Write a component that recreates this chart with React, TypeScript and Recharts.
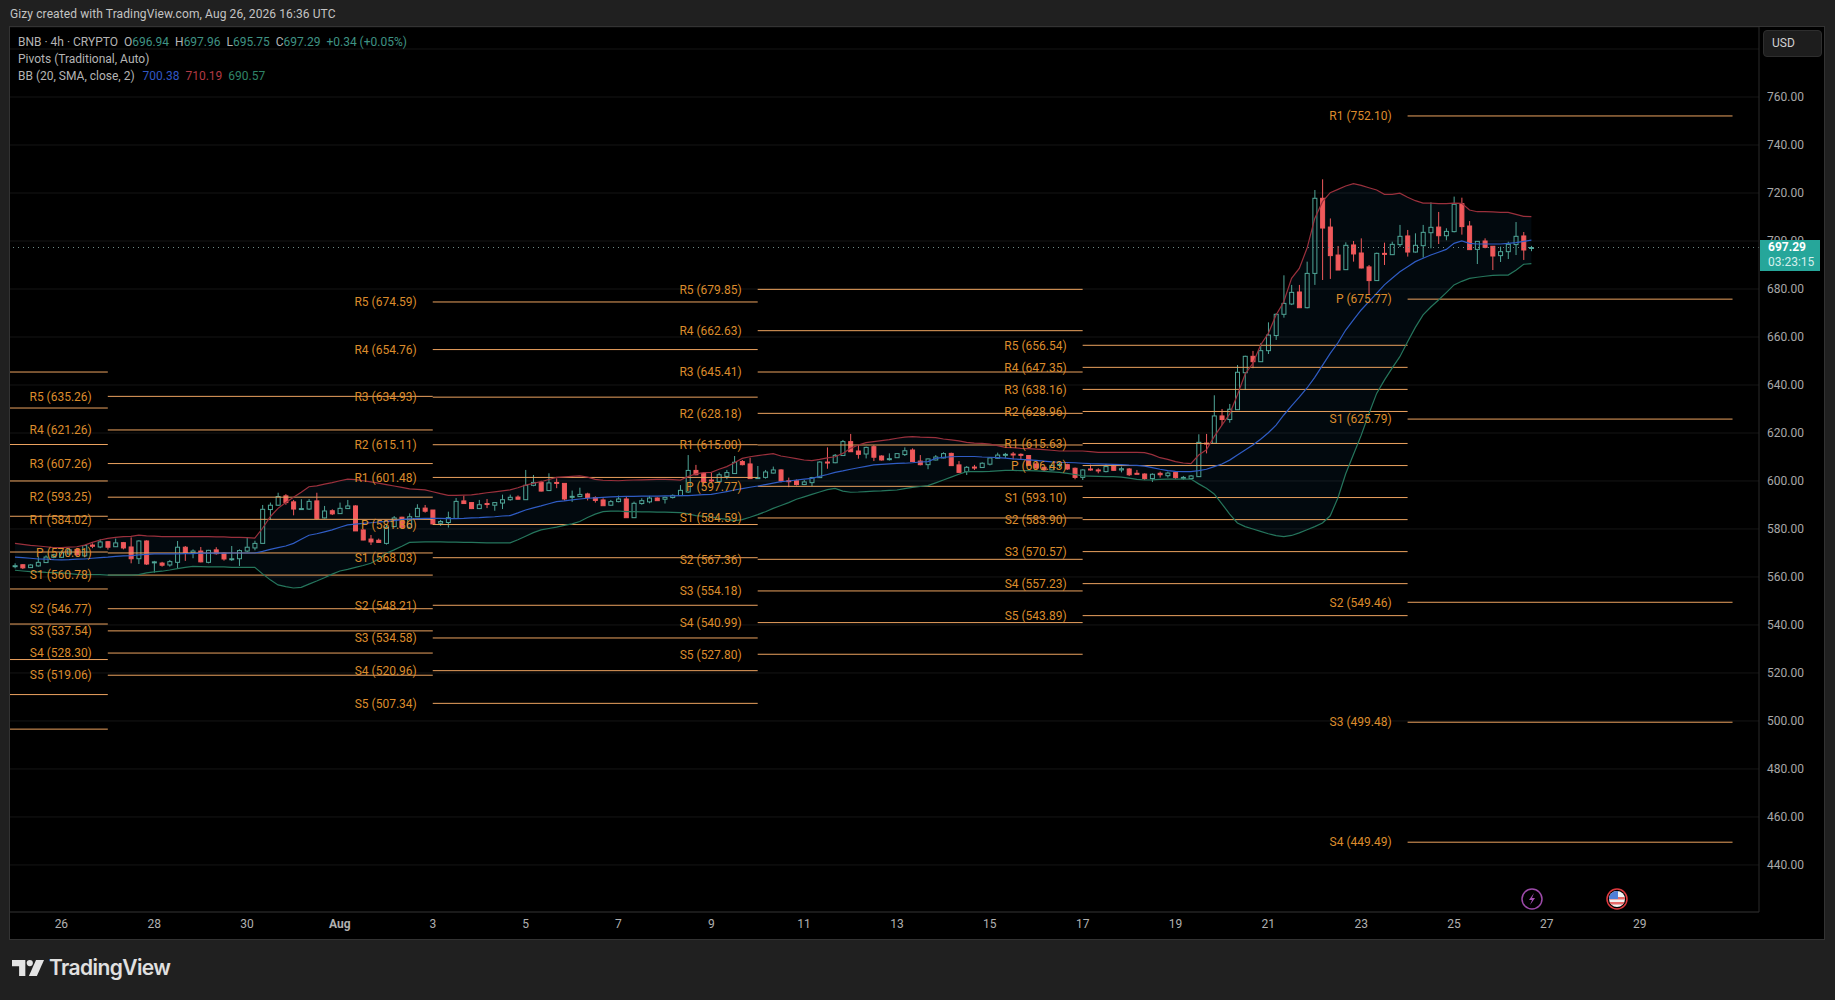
import React from "react";
import {
  Area,
  Bar,
  CartesianGrid,
  ComposedChart,
  Line,
  ReferenceLine,
  XAxis,
  YAxis,
} from "recharts";

// 4h bars of BNB, first bar is Jul 25 00:00, last one Aug 26 16:00
const opens = [
  564.5, 565.1, 563.9, 564.6, 566.0, 568.2, 568.2, 569.6, 571.5, 568.8,
  573.3, 572.5, 574.7, 572.6, 574.3, 572.5, 567.6, 575.0, 566.1, 565.8,
  565.0, 566.1, 572.4, 570.1, 570.8, 566.1, 571.3, 569.9, 567.5, 567.6,
  570.8, 572.1, 574.0, 588.1, 589.9, 593.8, 591.3, 588.3, 588.3, 591.7,
  584.6, 587.6, 586.4, 588.5, 589.6, 579.6, 575.8, 575.3, 574.0, 581.0,
  584.9, 580.7, 585.1, 588.7, 587.9, 582.4, 582.7, 584.4, 591.7, 591.0,
  588.5, 590.6, 589.9, 590.8, 592.2, 593.3, 592.2, 598.2, 599.4, 596.0,
  599.4, 599.0, 593.3, 593.5, 594.6, 593.1, 592.1, 589.9, 591.4, 592.5,
  584.7, 590.6, 591.3, 592.9, 592.4, 593.1, 593.9, 595.4, 604.4, 603.1,
  600.4, 599.7, 601.9, 603.1, 608.1, 607.1, 601.1, 601.5, 603.3, 604.6,
  600.1, 600.1, 598.5, 599.3, 601.4, 607.9, 607.6, 610.6, 616.4, 612.5,
  611.25, 614.3, 610.4, 608.9, 609.7, 611.0, 612.9, 608.3, 606.8, 608.75,
  609.6, 611.5, 606.7, 603.9, 605.8, 605.6, 607.0, 609.45, 611.0, 611.25,
  611.1, 610.6, 607.1, 605.7, 604.6, 606.7, 606.8, 605.3, 601.5, 605.0,
  604.6, 603.9, 606.1, 604.6, 605.0, 603.2, 602.9, 601.0, 603.2, 602.2,
  603.5, 601.25, 601.0, 601.8, 615.8, 615.7, 627.1, 625.6, 629.7, 645.1,
  651.95, 649.7, 654.3, 660.6, 669.45, 673.75, 678.75, 672.2, 686.5, 717.8,
  705.8, 694.15, 688.05, 698.35, 695.0, 689.2, 683.5, 694.85, 694.3, 698.5,
  702.1, 695.4, 698.05, 703.45, 705.8, 702.2, 703.9, 715.55, 706.25, 696.5,
  700.0, 697.8, 693.9, 695.55, 698.5, 702.1, 696.94,
];
const closes = [
  564.7, 563.8, 565.0, 566.1, 568.3, 569.2, 570.1, 571.3, 569.3, 573.1,
  572.8, 574.6, 572.4, 574.2, 572.1, 567.6, 575.0, 565.4, 566.3, 564.9,
  566.4, 572.4, 569.9, 570.8, 566.3, 571.1, 569.7, 567.5, 567.6, 571.0,
  572.4, 574.0, 588.2, 589.9, 593.5, 591.0, 588.3, 588.5, 591.5, 584.4,
  587.5, 586.3, 588.6, 589.6, 579.2, 575.4, 574.6, 574.4, 580.7, 584.6,
  580.7, 585.1, 588.6, 587.4, 582.1, 583.1, 584.7, 591.5, 590.6, 588.5,
  590.1, 590.3, 591.0, 592.2, 593.2, 592.4, 598.2, 599.4, 595.8, 599.2,
  599.2, 592.5, 593.6, 594.4, 593.1, 591.9, 589.7, 591.4, 592.5, 584.7,
  590.7, 591.8, 592.9, 591.8, 593.2, 594.0, 596.1, 604.4, 602.6, 599.6,
  600.1, 602.6, 603.5, 607.8, 606.8, 601.0, 601.4, 603.75, 604.6, 600.0,
  599.9, 598.5, 599.6, 601.4, 607.9, 607.6, 610.7, 616.4, 612.2, 611.1,
  614.0, 609.9, 608.75, 609.3, 611.4, 612.6, 608.1, 606.8, 609.2, 610.0,
  611.4, 606.4, 603.6, 605.7, 605.6, 607.4, 609.6, 610.8, 611.1, 611.0,
  610.8, 606.5, 605.4, 604.6, 606.4, 606.95, 605.0, 601.5, 604.6, 604.7,
  604.3, 606.0, 604.45, 605.1, 602.6, 602.9, 601.0, 602.8, 602.6, 603.3,
  601.4, 601.5, 602.1, 616.1, 615.6, 627.1, 625.6, 629.9, 645.3, 651.95,
  649.7, 654.3, 660.8, 669.45, 674.0, 678.6, 672.2, 686.5, 717.8, 705.4,
  693.9, 687.9, 698.2, 694.6, 688.75, 683.5, 694.85, 694.6, 698.6, 701.95,
  695.4, 698.2, 703.6, 705.7, 702.2, 704.0, 715.3, 706.0, 696.4, 699.85,
  697.35, 693.75, 695.55, 698.6, 701.95, 696.25, 697.29,
];
const highs = [
  565.7, 565.4, 565.3, 568.5, 569.0, 569.6, 571.0, 572.0, 572.1, 573.3,
  574.0, 575.7, 575.0, 576.0, 574.6, 576.5, 575.3, 575.3, 566.7, 566.3,
  567.1, 575.0, 572.9, 571.5, 572.5, 571.3, 572.4, 570.3, 572.9, 571.5,
  576.5, 575.1, 590.0, 591.0, 595.1, 594.5, 592.1, 592.4, 592.5, 595.1,
  589.6, 588.2, 591.0, 592.1, 589.9, 579.9, 577.5, 576.0, 581.7, 585.4,
  585.1, 586.5, 590.3, 590.0, 587.9, 583.8, 587.2, 592.9, 593.9, 591.2,
  592.1, 592.5, 591.1, 594.3, 594.3, 594.0, 604.6, 602.5, 600.1, 603.2,
  601.1, 599.0, 596.0, 597.2, 595.1, 593.6, 592.8, 592.1, 593.9, 593.5,
  591.4, 592.8, 593.8, 593.2, 593.5, 594.4, 598.3, 610.8, 606.7, 603.5,
  603.5, 603.5, 604.6, 610.4, 608.75, 609.7, 606.25, 604.6, 606.0, 604.9,
  601.4, 600.6, 600.4, 601.7, 608.2, 614.0, 611.25, 617.1, 619.6, 614.9,
  614.3, 614.9, 610.7, 611.5, 611.5, 614.0, 613.6, 610.8, 609.4, 610.8,
  611.95, 611.8, 608.3, 606.25, 606.7, 607.8, 609.9, 611.8, 611.7, 612.1,
  611.5, 610.7, 608.1, 606.0, 606.95, 608.1, 607.2, 605.6, 604.9, 606.8,
  605.3, 607.1, 606.95, 606.0, 605.4, 604.6, 603.2, 603.2, 603.9, 603.9,
  603.75, 602.1, 602.5, 619.45, 619.6, 635.7, 630.0, 632.1, 648.3, 652.2,
  654.2, 657.4, 666.1, 669.9, 685.7, 681.7, 681.7, 691.4, 721.25, 725.7,
  709.4, 697.9, 699.45, 700.0, 701.1, 690.0, 695.15, 699.3, 699.7, 706.7,
  704.6, 703.2, 706.7, 716.1, 712.1, 705.3, 718.5, 718.05, 708.3, 700.0,
  701.1, 697.9, 697.65, 699.7, 707.9, 703.75, 697.96,
];
const lows = [
  563.6, 563.3, 563.8, 564.3, 565.8, 567.8, 567.9, 569.2, 568.8, 568.2,
  572.0, 572.0, 571.4, 572.5, 571.5, 565.7, 565.4, 565.0, 561.8, 564.3,
  564.3, 563.6, 566.7, 567.8, 566.1, 565.7, 569.3, 566.8, 566.7, 564.6,
  570.4, 571.1, 574.0, 583.8, 589.6, 590.1, 585.7, 588.1, 587.9, 584.0,
  584.4, 585.8, 586.3, 588.3, 579.2, 575.3, 573.3, 574.3, 573.5, 580.7,
  580.4, 580.6, 585.0, 586.8, 581.9, 581.3, 580.6, 584.2, 590.4, 588.3,
  588.3, 588.7, 587.6, 588.3, 591.8, 592.2, 592.1, 597.8, 595.6, 595.8,
  597.0, 591.8, 591.3, 593.3, 591.9, 591.0, 589.6, 589.7, 591.1, 584.6,
  584.6, 590.1, 590.7, 591.7, 590.6, 592.7, 593.8, 595.1, 602.4, 598.3,
  599.3, 599.6, 600.7, 602.9, 606.5, 600.8, 601.0, 601.0, 603.1, 599.4,
  597.4, 598.1, 598.3, 597.9, 601.25, 605.1, 607.4, 610.4, 612.1, 609.3,
  609.4, 608.3, 608.5, 608.5, 609.6, 610.4, 607.9, 606.5, 604.9, 608.6,
  609.45, 606.25, 603.3, 602.5, 604.6, 605.4, 606.5, 609.3, 609.6, 609.0,
  609.0, 606.4, 605.1, 603.9, 604.45, 605.3, 604.6, 600.7, 600.4, 604.3,
  603.2, 603.6, 604.2, 603.6, 602.1, 602.8, 600.4, 599.6, 601.4, 601.4,
  600.8, 600.4, 600.7, 601.7, 611.5, 615.6, 623.3, 624.3, 629.6, 637.9,
  647.0, 649.6, 652.9, 658.75, 668.05, 673.3, 672.1, 671.95, 681.7, 683.75,
  684.2, 687.9, 687.9, 691.4, 688.6, 677.5, 683.35, 690.0, 694.15, 697.5,
  693.5, 695.15, 693.05, 696.95, 698.75, 700.3, 703.6, 702.65, 696.25, 690.4,
  696.95, 687.9, 691.25, 692.5, 694.15, 692.1, 695.75,
];

// Bollinger bands, read bar by bar
const bbUpper = [
  574.0, 573.6, 573.2, 572.9, 572.6, 572.2, 572.2, 572.4, 572.6, 573.3,
  574.4, 575.4, 576.1, 576.5, 576.8, 576.9, 577.4, 577.1, 577.0, 576.8,
  576.8, 576.8, 576.8, 576.8, 576.8, 576.8, 576.7, 576.7, 576.5, 576.5,
  576.4, 576.2, 580.3, 585.1, 588.6, 591.0, 593.2, 595.3, 597.6, 598.0,
  598.7, 599.3, 600.1, 600.8, 600.6, 600.1, 599.6, 599.1, 598.5, 597.9,
  597.3, 596.7, 596.5, 596.3, 595.5, 594.7, 594.0, 594.0, 594.1, 594.2,
  594.6, 595.1, 595.5, 595.9, 596.3, 597.2, 598.3, 599.0, 599.7, 600.6,
  601.5, 601.7, 601.9, 602.1, 601.6, 600.7, 600.3, 600.2, 600.1, 600.3,
  600.4, 600.5, 600.6, 600.7, 600.7, 600.6, 600.4, 601.8, 603.0, 603.5,
  603.6, 604.9, 606.0, 607.6, 609.4, 610.1, 610.6, 611.0, 611.4, 610.4,
  609.9, 609.3, 608.75, 608.5, 609.0, 609.6, 610.1, 611.5, 613.6, 615.0,
  616.0, 616.4, 616.8, 617.2, 617.8, 618.3, 618.5, 618.3, 618.2, 618.1,
  617.5, 617.1, 616.7, 616.1, 615.8, 615.7, 615.4, 614.7, 614.0, 613.9,
  613.6, 613.5, 613.3, 613.1, 612.8, 612.5, 612.5, 612.5, 612.5, 612.2,
  611.95, 611.95, 611.95, 611.95, 611.95, 611.95, 611.8, 611.0, 609.7, 609.0,
  608.05, 607.5, 607.2, 610.8, 613.0, 618.5, 623.3, 627.9, 635.8, 644.6,
  649.0, 656.7, 661.5, 669.2, 674.7, 684.45, 688.6, 696.95, 709.4, 716.4,
  720.15, 721.5, 722.9, 723.9, 723.2, 722.2, 721.25, 719.45, 719.45, 719.9,
  718.2, 716.8, 715.8, 715.8, 715.55, 715.55, 715.8, 715.7, 712.9, 712.2,
  712.2, 712.1, 711.95, 711.95, 711.1, 710.3, 710.19,
];
const bbMiddle = [
  568.3, 568.1, 567.8, 567.5, 567.4, 567.2, 567.1, 567.2, 567.4, 567.5,
  567.8, 568.1, 568.3, 568.6, 568.8, 568.9, 569.2, 569.4, 569.6, 569.6,
  569.6, 569.6, 569.7, 569.7, 569.9, 569.9, 569.9, 569.9, 570.0, 570.0,
  570.0, 570.0, 570.7, 571.5, 572.2, 572.9, 574.0, 575.7, 577.4, 578.0,
  578.8, 579.6, 580.7, 581.7, 582.0, 582.3, 582.6, 582.9, 583.2, 583.5,
  583.9, 584.2, 584.3, 584.4, 584.4, 584.4, 584.3, 584.3, 584.4, 584.6,
  584.7, 584.9, 585.1, 585.4, 585.6, 586.7, 587.9, 588.8, 589.6, 590.5,
  591.4, 591.7, 592.1, 592.5, 592.8, 593.0, 593.2, 593.4, 593.5, 593.6,
  593.6, 593.7, 593.7, 593.7, 593.8, 593.8, 593.9, 593.9, 594.1, 594.3,
  594.4, 595.0, 595.6, 596.25, 596.8, 597.4, 597.9, 598.5, 599.1, 599.7,
  600.0, 600.4, 600.8, 601.1, 601.9, 602.7, 603.6, 604.2, 604.9, 605.5,
  606.1, 606.7, 606.9, 607.1, 607.3, 607.4, 607.6, 607.9, 608.1, 609.4,
  609.8, 610.1, 610.2, 610.2, 610.2, 610.0, 609.9, 609.7, 609.5, 609.2,
  609.0, 608.8, 608.6, 608.3, 608.0, 607.8, 607.7, 607.6, 607.4, 607.2,
  607.1, 607.0, 606.9, 606.8, 606.6, 606.5, 606.2, 605.6, 604.9, 604.3,
  604.0, 603.9, 603.9, 604.3, 604.9, 606.0, 607.1, 608.7, 610.8, 612.9,
  615.0, 617.4, 620.1, 623.3, 627.5, 631.3, 634.9, 638.75, 643.2, 648.2,
  653.2, 657.6, 662.9, 667.1, 671.25, 674.7, 678.2, 681.7, 684.45, 687.2,
  689.3, 691.4, 692.8, 694.15, 695.3, 696.5, 699.0, 700.0, 699.0, 698.75,
  698.75, 698.75, 698.75, 699.0, 699.3, 699.85, 700.38,
];
const bbLower = [
  562.8, 562.5, 562.2, 562.1, 561.9, 561.8, 561.7, 561.4, 561.1, 561.0,
  561.0, 561.0, 560.8, 560.8, 560.8, 560.8, 561.0, 561.7, 562.1, 562.4,
  562.9, 563.5, 564.0, 564.4, 564.3, 564.2, 564.2, 564.2, 564.0, 564.0,
  564.0, 564.0, 561.3, 558.8, 556.7, 556.0, 555.4, 555.7, 557.0, 558.3,
  559.7, 561.2, 562.5, 563.2, 564.0, 564.8, 565.7, 567.5, 569.9, 571.3,
  572.8, 574.4, 574.5, 574.6, 574.6, 574.6, 574.5, 574.5, 574.4, 574.4,
  574.3, 574.2, 574.2, 574.2, 574.2, 575.5, 577.0, 578.5, 579.6, 580.2,
  580.8, 581.5, 582.1, 583.1, 584.8, 586.2, 587.2, 587.4, 587.5, 587.2,
  587.2, 587.1, 587.1, 587.0, 587.0, 586.9, 586.8, 586.3, 585.6, 585.3,
  585.0, 584.4, 584.0, 583.5, 583.9, 584.9, 586.0, 587.2, 588.6, 589.8,
  591.0, 592.4, 593.4, 594.4, 595.4, 596.4, 596.9, 595.8, 595.3, 595.4,
  595.6, 595.8, 595.9, 596.1, 596.25, 596.8, 597.3, 597.7, 598.05, 599.2,
  600.4, 601.6, 602.8, 603.9, 603.9, 603.9, 604.0, 604.2, 604.4, 604.4,
  604.3, 604.3, 604.2, 604.0, 603.8, 603.6, 603.2, 602.7, 602.1, 602.0,
  601.9, 601.8, 601.8, 601.6, 601.2, 600.7, 600.4, 600.5, 600.7, 600.8,
  600.8, 600.8, 600.8, 598.8, 596.95, 594.6, 590.5, 586.2, 582.5, 581.0,
  580.0, 579.0, 578.0, 577.2, 576.8, 577.3, 578.4, 579.7, 581.0, 582.5,
  585.5, 593.0, 603.0, 611.0, 619.0, 628.0, 636.5, 642.0, 647.0, 651.8,
  658.0, 664.0, 669.2, 672.5, 675.4, 678.5, 681.7, 683.2, 684.4, 684.9,
  685.3, 685.7, 685.8, 685.8, 687.8, 690.3, 690.57,
];

// days counted from Jul 26, the pivot periods run Monday to Monday
const xStart = -1.107;
const xEnd = 36.57;
const pivotBounds = [xStart, 1, 8, 15, 22, 29, 36];
const pivotNames = ["R5", "R4", "R3", "R2", "R1", "P", "S1", "S2", "S3", "S4", "S5"];
const pivotValues = [
  [645.4, 630.4, 615.2, 600.0, 585.3, 570.4, 555.0, 540.4, 525.6, 511.0, 496.6],
  [635.26, 621.26, 607.26, 593.25, 584.02, 570.01, 560.78, 546.77, 537.54, 528.3, 519.06],
  [674.59, 654.76, 634.93, 615.11, 601.48, 581.86, 568.03, 548.21, 534.58, 520.96, 507.34],
  [679.85, 662.63, 645.41, 628.18, 615.0, 597.77, 584.59, 567.36, 554.18, 540.99, 527.8],
  [656.54, 647.35, 638.16, 628.96, 615.63, 606.43, 593.1, 583.9, 570.57, 557.23, 543.89],
  [null, null, null, null, 752.1, 675.77, 625.79, 549.46, 499.48, 449.49, null],
];

const yTicks = [440, 460, 480, 500, 520, 540, 560, 580, 600, 620, 640, 660, 680, 700, 720, 740, 760];
const xTicks = [0, 2, 4, 6, 8, 10, 12, 14, 16, 18, 20, 22, 24, 26, 28, 30, 32, 34];
const xLabels = ["26", "28", "30", "Aug", "3", "5", "7", "9", "11", "13", "15", "17", "19", "21", "23", "25", "27", "29"];

const lastPrice = 697.29;

const UP = "#4fa597";
const DOWN = "#f0595b";
const PIVOT_LINE = "#eba25f";
const PIVOT_TEXT = "#dc8c2c";
const FONT = "Roboto, 'Liberation Sans', sans-serif";

const chartData = opens.map((open, i) => ({
  t: (i - 6) / 6,
  open,
  high: highs[i],
  low: lows[i],
  close: closes[i],
  upper: bbUpper[i],
  middle: bbMiddle[i],
  lower: bbLower[i],
}));

// draws wick + body inside the high-low box the Bar gives us
const Candle = (props: any) => {
  const { x, y, width, height, payload } = props;
  const up = payload.close >= payload.open;
  const color = up ? UP : DOWN;
  const span = payload.high - payload.low || 1;
  const unit = Math.abs(height) / span;
  const top = Math.min(y, y + height);
  const bodyTop = top + (payload.high - Math.max(payload.open, payload.close)) * unit;
  const bodyH = Math.max(Math.abs(payload.close - payload.open) * unit, 1);
  const cx = x + width / 2;
  return (
    <g>
      <line x1={cx} x2={cx} y1={top} y2={bodyTop} stroke={color} strokeWidth={1} />
      <line x1={cx} x2={cx} y1={bodyTop + bodyH} y2={top + Math.abs(height)} stroke={color} strokeWidth={1} />
      <rect
        x={x}
        y={bodyTop}
        width={width}
        height={bodyH}
        fill={up ? "none" : color}
        stroke={color}
        strokeWidth={1}
      />
    </g>
  );
};

const DayTick = (props: any) => {
  const { x, y, payload } = props;
  const label = xLabels[xTicks.indexOf(payload.value)];
  return (
    <text
      x={x}
      y={y + 8}
      textAnchor="middle"
      fill="#b0b0b0"
      fontSize={12}
      fontWeight={label === "Aug" ? 700 : 400}
      fontFamily={FONT}
    >
      {label}
    </text>
  );
};

const Legend = () => (
  <div
    style={{
      position: "absolute",
      left: 18,
      top: 34,
      fontFamily: FONT,
      fontSize: 12,
      lineHeight: "17px",
      color: "#b4b4b4",
      whiteSpace: "pre",
    }}
  >
    <div>
      {"BNB · 4h · CRYPTO  O"}
      <span style={{ color: "#3f9384" }}>696.94</span>
      {"  H"}
      <span style={{ color: "#3f9384" }}>697.96</span>
      {"  L"}
      <span style={{ color: "#3f9384" }}>695.75</span>
      {"  C"}
      <span style={{ color: "#3f9384" }}>697.29</span>
      <span style={{ color: "#3f9384" }}>{"  +0.34 (+0.05%)"}</span>
    </div>
    <div>Pivots (Traditional, Auto)</div>
    <div>
      {"BB (20, SMA, close, 2)  "}
      <span style={{ color: "#3157c4", marginLeft: 2 }}>700.38</span>
      {"  "}
      <span style={{ color: "#b23a44" }}>710.19</span>
      {"  "}
      <span style={{ color: "#2f8468" }}>690.57</span>
    </div>
  </div>
);

const Logo = () => (
  <div style={{ position: "absolute", left: 12, top: 955, display: "flex", alignItems: "center" }}>
    <svg width="32" height="20" viewBox="0 0 36 20">
      <path d="M0 1h15v18H8V8H0z" fill="#e4e4e4" />
      <circle cx="20" cy="4.5" r="3.5" fill="#e4e4e4" />
      <path d="M27 1h9l-8 18h-9z" fill="#e4e4e4" />
    </svg>
    <span
      style={{
        marginLeft: 5,
        fontFamily: "Inter, Roboto, sans-serif",
        fontSize: 21,
        fontWeight: 600,
        letterSpacing: -0.6,
        color: "#e0e0e0",
      }}
    >
      TradingView
    </span>
  </div>
);

const Badges = () => (
  <>
    <svg style={{ position: "absolute", left: 1521, top: 888 }} width="22" height="22">
      <circle cx="11" cy="11" r="10" fill="#000" stroke="#9c4aa8" strokeWidth="1.5" />
      <path d="M13 5l-5 7h3l-2 5 5-7h-3z" fill="#a54fb2" />
    </svg>
    <svg style={{ position: "absolute", left: 1606, top: 888 }} width="22" height="22">
      <circle cx="11" cy="11" r="10" fill="#000" stroke="#e0393e" strokeWidth="1.5" />
      <clipPath id="flag">
        <circle cx="11" cy="11" r="8" />
      </clipPath>
      <g clipPath="url(#flag)">
        <rect x="3" y="3" width="16" height="16" fill="#f2f2f2" />
        <rect x="3" y="9" width="16" height="2.5" fill="#e46a6a" />
        <rect x="3" y="14" width="16" height="2.5" fill="#e46a6a" />
        <rect x="3" y="3" width="9" height="8" fill="#4f7fd8" />
      </g>
    </svg>
  </>
);

export default function App() {
  return (
    <div
      style={{
        position: "absolute",
        left: 0,
        top: 0,
        width: 1835,
        height: 1000,
        background: "#202020",
        overflow: "hidden",
      }}
    >
      <div
        style={{
          position: "absolute",
          left: 10,
          top: 7,
          fontFamily: FONT,
          fontSize: 12,
          letterSpacing: 0.1,
          color: "#c4c4c4",
        }}
      >
        Gizy created with TradingView.com, Aug 26, 2026 16:36 UTC
      </div>
      <div
        style={{
          position: "absolute",
          left: 9,
          top: 26,
          width: 1816,
          height: 914,
          border: "1px solid #333",
          boxSizing: "border-box",
          background: "#000",
        }}
      />
      <div style={{ position: "absolute", left: 10, top: 27 }}>
        <ComposedChart
          width={1814}
          height={912}
          data={chartData}
          margin={{ top: 0, right: 0, bottom: 0, left: 0 }}
          barSize={4}
        >
          <CartesianGrid vertical={false} stroke="#151515" />
          <XAxis
            type="number"
            dataKey="t"
            domain={[xStart, xEnd]}
            ticks={xTicks}
            tick={<DayTick />}
            tickLine={false}
            axisLine={{ stroke: "#2b2b2b" }}
            height={27}
            allowDataOverflow
          />
          <YAxis
            type="number"
            orientation="right"
            domain={[420.4, 789.17]}
            ticks={yTicks}
            tickFormatter={(v: number) => v.toFixed(2)}
            tick={{ fill: "#a8a8a8", fontSize: 12, fontFamily: FONT }}
            tickLine={false}
            axisLine={{ stroke: "#2b2b2b" }}
            width={65}
            allowDataOverflow
          />
          <ReferenceLine y={780} stroke="#151515" />
          <ReferenceLine y={lastPrice} stroke="#6f8c87" strokeDasharray="1 4" />
          <Area
            dataKey={(d: any) => [d.lower, d.upper]}
            type="linear"
            stroke="none"
            fill="#2196f3"
            fillOpacity={0.06}
            isAnimationActive={false}
          />
          {pivotValues.map((levels, p) =>
            levels.map((value, n) =>
              value === null ? null : (
                <ReferenceLine
                  key={`${p}-${n}`}
                  segment={[
                    { x: pivotBounds[p], y: value },
                    { x: pivotBounds[p + 1], y: value },
                  ]}
                  stroke={PIVOT_LINE}
                  strokeWidth={1}
                  label={
                    p === 0
                      ? undefined
                      : {
                          value: `${pivotNames[n]} (${value.toFixed(2)})`,
                          position: "left",
                          offset: 16,
                          fill: PIVOT_TEXT,
                          fontSize: 12,
                          fontFamily: FONT,
                        }
                  }
                />
              ),
            ),
          )}
          <Line dataKey="upper" type="linear" stroke="#9a303c" strokeWidth={1.2} dot={false} isAnimationActive={false} />
          <Line dataKey="middle" type="linear" stroke="#2f5cc4" strokeWidth={1.2} dot={false} isAnimationActive={false} />
          <Line dataKey="lower" type="linear" stroke="#25755c" strokeWidth={1.2} dot={false} isAnimationActive={false} />
          <Bar dataKey={(d: any) => [d.low, d.high]} shape={<Candle />} isAnimationActive={false} />
        </ComposedChart>
      </div>
      <Legend />
      <div
        style={{
          position: "absolute",
          left: 1763,
          top: 30,
          width: 59,
          height: 27,
          boxSizing: "border-box",
          background: "#1d1d1d",
          border: "1px solid #2e2e2e",
          borderRadius: 4,
          color: "#d0d0d0",
          fontFamily: FONT,
          fontSize: 12,
          lineHeight: "25px",
          paddingLeft: 8,
        }}
      >
        USD
      </div>
      <div
        style={{
          position: "absolute",
          left: 1760,
          top: 240,
          width: 60,
          height: 31,
          background: "#26a69a",
          color: "#fff",
          fontFamily: FONT,
          fontSize: 12,
          lineHeight: "15px",
          paddingLeft: 8,
          boxSizing: "border-box",
        }}
      >
        <div style={{ fontWeight: 700 }}>697.29</div>
        <div style={{ color: "#d5efec" }}>03:23:15</div>
      </div>
      <Badges />
      <Logo />
    </div>
  );
}
